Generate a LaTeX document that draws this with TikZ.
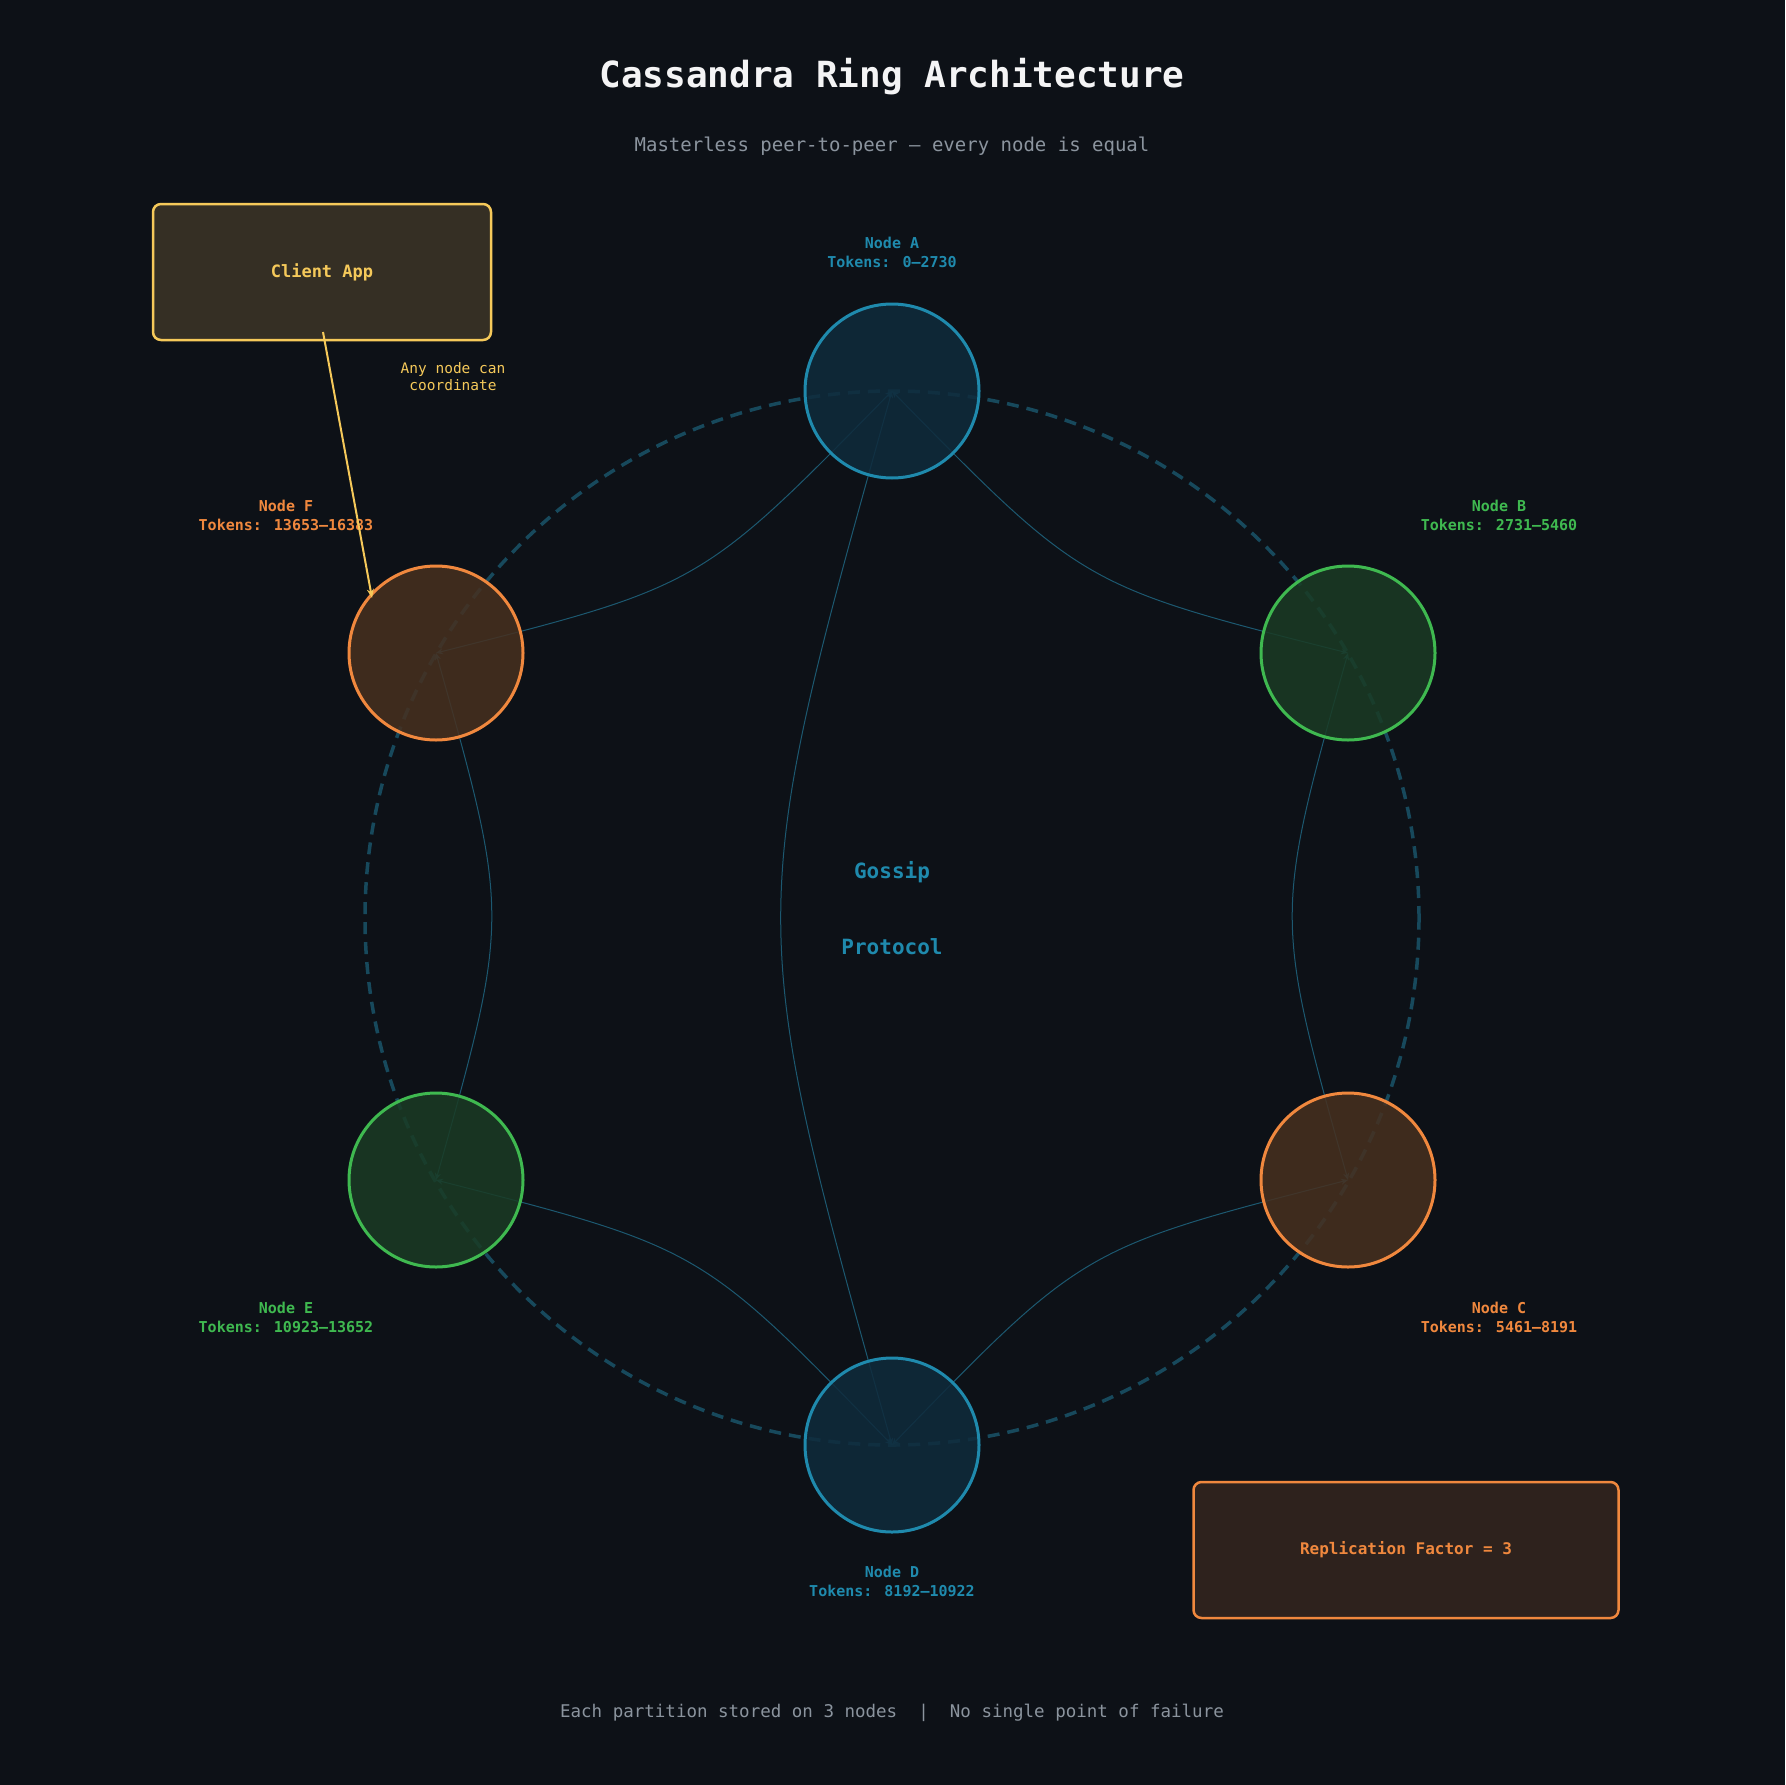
\documentclass[tikz,border=0pt]{standalone}
\usepackage{fontspec}
\setmainfont{DejaVu Sans Mono}
\usetikzlibrary{arrows.meta}
\definecolor{bg}{HTML}{0D1117}
\definecolor{cblue}{HTML}{1F8AAD}
\definecolor{cgreen}{HTML}{3FB950}
\definecolor{corange}{HTML}{F0883E}
\definecolor{cyellow}{HTML}{F5C95A}
\definecolor{fblue}{HTML}{0F2B3C}
\definecolor{fgreen}{HTML}{1A3B24}
\definecolor{forange}{HTML}{47301F}
\definecolor{edge}{HTML}{1C5870}
\definecolor{ring}{HTML}{17495C}
\definecolor{gray}{HTML}{8B949E}
\definecolor{clientfill}{HTML}{352F24}
\definecolor{rffill}{HTML}{2E221D}
\begin{document}
\begin{tikzpicture}[x=1pt,y=-1pt,
  peer/.style={circle,minimum size=174pt,line width=3pt,inner sep=0pt,fill opacity=0.85},
  lab/.style={font=\bfseries\fontsize{15}{19}\selectfont,align=center},
  gl/.style={edge,line width=1pt,{Stealth[open,length=7pt,width=6pt]}-{Stealth[open,length=7pt,width=6pt]}}]
\fill[bg] (0,0) rectangle (1785,1785);
\useasboundingbox (0,0) rectangle (1785,1785);
\coordinate (ca) at (892,391);
\coordinate (cb) at (1348,653);
\coordinate (cc) at (1348,1180);
\coordinate (cd) at (892,1445);
\coordinate (ce) at (436,1180);
\coordinate (cf) at (436,653);
\node[circle,draw=ring,dash pattern=on 12pt off 8pt,line width=3.5pt,minimum size=1054pt,inner sep=0pt] (ringc) at (892,918) {};
\draw[gl] (ca) .. controls (1083,586) .. (cb);
\draw[gl] (cb) .. controls (1274,916) .. (cc);
\draw[gl] (cc) .. controls (1083,1248) .. (cd);
\draw[gl] (cd) .. controls (701,1248) .. (ce);
\draw[gl] (ce) .. controls (510,916) .. (cf);
\draw[gl] (cf) .. controls (701,586) .. (ca);
\draw[gl] (ca) .. controls (744,918) .. (cd);
\node[peer,draw=cblue,fill=fblue] (A) at (ca) {};
\node[peer,draw=cgreen,fill=fgreen] (B) at (cb) {};
\node[peer,draw=corange,fill=forange] (C) at (cc) {};
\node[peer,draw=cblue,fill=fblue] (D) at (cd) {};
\node[peer,draw=cgreen,fill=fgreen] (E) at (ce) {};
\node[peer,draw=corange,fill=forange] (F) at (cf) {};
\node[lab,text=cblue] (la) at (892,252) {Node A\\Tokens: 0–2730};
\node[lab,text=cgreen] (lb) at (1499,515) {Node B\\Tokens: 2731–5460};
\node[lab,text=corange] (lc) at (1499,1317) {Node C\\Tokens: 5461–8191};
\node[lab,text=cblue] (ld) at (892,1581) {Node D\\Tokens: 8192–10922};
\node[lab,text=cgreen] (le) at (286,1317) {Node E\\Tokens: 10923–13652};
\node[lab,text=corange] (lf) at (286,515) {Node F\\Tokens: 13653–16383};
\node[font=\bfseries\fontsize{36}{40}\selectfont,text=white!90!gray] (title) at (892,77) {Cassandra Ring Architecture};
\node[font=\fontsize{19}{22}\selectfont,text=gray] (sub) at (892,146) {Masterless peer-to-peer — every node is equal};
\node[font=\bfseries\fontsize{21}{25}\selectfont,text=cblue] (g1) at (892,872) {Gossip};
\node[font=\bfseries\fontsize{21}{25}\selectfont,text=cblue] (g2) at (892,947) {Protocol};
\node[draw=cyellow,fill=clientfill,line width=2.5pt,rounded corners=8pt,minimum width=338pt,minimum height=136pt,font=\bfseries\fontsize{17}{20}\selectfont,text=cyellow] (client) at (322,272) {Client App};
\coordinate (cs) at (323,332);
\coordinate (ct) at (372,598);
\draw[cyellow,line width=2pt,-{Stealth[length=9pt,width=7pt]}] (cs) -- (ct);
\node[font=\fontsize{14.5}{17}\selectfont,text=cyellow,align=center] (note) at (453,377) {Any node can\\coordinate};
\node[draw=corange,fill=rffill,line width=2.5pt,rounded corners=8pt,minimum width=425pt,minimum height=136pt,font=\bfseries\fontsize{16}{20}\selectfont,text=corange] (rf) at (1406,1550) {Replication Factor = 3};
\node[font=\fontsize{17.5}{20}\selectfont,text=gray] (foot) at (892,1713) {Each partition stored on 3 nodes~~|~~No single point of failure};
\end{tikzpicture}
\end{document}
